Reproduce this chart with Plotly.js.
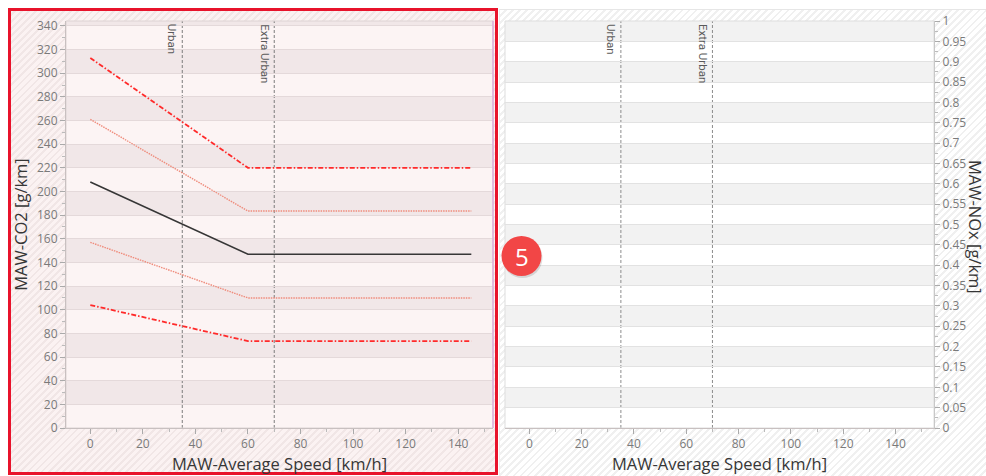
<!DOCTYPE html>
<html>
<head>
<meta charset="utf-8">
<script src="https://cdn.plot.ly/plotly-3.0.1.min.js"></script>
<style>
  html, body { margin:0; padding:0; background:#fff; }
  #wrap { position:relative; width:986px; height:476px; overflow:hidden; }
  .bg { position:absolute; }
  #bgL { left:10px; top:10px; width:486px; height:463px;
    background: repeating-linear-gradient(135deg, #fbf2f2 0px, #fbf2f2 3px, #f1e6e6 3px, #f1e6e6 5px); }
  #bgR { left:499px; top:9px; width:487px; height:467px; border-top:1px solid #e6e6e6; border-left:1px solid #eee;
    background: repeating-linear-gradient(135deg, #ffffff 0px, #ffffff 3px, #f0f0f0 3px, #f0f0f0 5px); }
  #chart { position:absolute; left:0; top:0; width:986px; height:476px; }
</style>
</head>
<body>
<div id="wrap">
  <div class="bg" id="bgL"></div>
  <div class="bg" id="bgR"></div>
  <div id="chart"></div>
</div>
<script>
// ---- data ----
const speed = [0, 60, 120, 145];
const co2Upper2 = [313, 220, 220, 220];   // outer upper (red dash-dot)
const co2Upper1 = [261, 183.5, 183.5, 183.5]; // inner upper (salmon dotted)
const co2Target = [208, 147, 147, 147];   // target (black)
const co2Lower1 = [157, 110, 110, 110];   // inner lower (salmon dotted)
const co2Lower2 = [104, 73.5, 73.5, 73.5]; // outer lower (red dash-dot)
const phaseNames = ["Urban", "Extra Urban"];
const phaseSpeeds = [35, 70];
const xTicks = [0, 20, 40, 60, 80, 100, 120, 140];
const co2Ticks = [0,20,40,60,80,100,120,140,160,180,200,220,240,260,280,300,320,340];
const noxTicks = [0,0.05,0.1,0.15,0.2,0.25,0.3,0.35,0.4,0.45,0.5,0.55,0.6,0.65,0.7,0.75,0.8,0.85,0.9,0.95,1];
const badgeLabel = "5";

// ---- geometry helpers (pixel -> paper) ----
const W = 986, H = 476;
const px = x => x / W;
const py = y => 1 - y / H;

const plotTop = 21, plotBot = 428;
const FONT = "Open Sans, DejaVu Sans, sans-serif";
const tickFont = {family: FONT, size: 12, color: "#7a7a7a"};
const titleFont = {family: FONT, size: 16.5, color: "#363636"};
const phaseFont = {family: "Roboto, Open Sans, sans-serif", size: 11.5, color: "#5a5a5a"};

const redLine = {color: "#ff2a2a", width: 1.8, dash: "5px,2px,1.5px,2px"};
const salmonLine = {color: "#ef8c7c", width: 1.4, dash: "1.5px,1px"};

const traces = [
  {x: speed, y: co2Upper2, mode: "lines", line: redLine, xaxis: "x", yaxis: "y", hoverinfo: "skip"},
  {x: speed, y: co2Upper1, mode: "lines", line: salmonLine, xaxis: "x", yaxis: "y", hoverinfo: "skip"},
  {x: speed, y: co2Target, mode: "lines", line: {color: "#363636", width: 1.6}, xaxis: "x", yaxis: "y", hoverinfo: "skip"},
  {x: speed, y: co2Lower1, mode: "lines", line: salmonLine, xaxis: "x", yaxis: "y", hoverinfo: "skip"},
  {x: speed, y: co2Lower2, mode: "lines", line: redLine, xaxis: "x", yaxis: "y", hoverinfo: "skip"},
  // empty NOx panel trace to instantiate axes
  {x: [], y: [], mode: "lines", xaxis: "x2", yaxis: "y2", hoverinfo: "skip"}
];

const shapes = [];
// plot background bands (left: CO2, step 20)
for (let i = 0; i < co2Ticks.length; i++) {
  const y0 = co2Ticks[i];
  const y1 = i + 1 < co2Ticks.length ? co2Ticks[i + 1] : 344.2;
  const dark = (i % 2 === 1);
  shapes.push({type: "rect", xref: "x domain", yref: "y", x0: 0, x1: 1, y0: y0, y1: y1,
    fillcolor: dark ? "#f1e7e8" : "#fcf4f4", line: {width: 0}, layer: "below"});
}
// right: NOx, step 0.05
for (let i = 0; i < noxTicks.length - 1; i++) {
  const dark = (i % 2 === 1);
  shapes.push({type: "rect", xref: "x2 domain", yref: "y2", x0: 0, x1: 1, y0: noxTicks[i], y1: noxTicks[i + 1],
    fillcolor: dark ? "#f2f2f2" : "#ffffff", line: {width: 0}, layer: "below"});
}
// phase lines
phaseSpeeds.forEach(s => {
  shapes.push({type: "line", xref: "x", yref: "y domain", x0: s, x1: s, y0: 0, y1: 1,
    line: {color: "#7c7c7c", width: 1, dash: "3px,2px"}, layer: "below"});
  shapes.push({type: "line", xref: "x2", yref: "y2 domain", x0: s, x1: s, y0: 0, y1: 1,
    line: {color: "#8c8c8c", width: 1, dash: "3px,2px"}, layer: "below"});
});
// plot frames
shapes.push({type: "rect", xref: "x domain", yref: "y domain", x0: 0, x1: 1, y0: 0, y1: 1,
  line: {color: "#ddd4d4", width: 1}, layer: "below"});
shapes.push({type: "line", xref: "x domain", yref: "y domain", x0: 1, x1: 1, y0: 0, y1: 1,
  line: {color: "#d9a3d9", width: 1.2}});
shapes.push({type: "rect", xref: "x2 domain", yref: "y2 domain", x0: 0, x1: 1, y0: 0, y1: 1,
  line: {color: "#dddddd", width: 1}, layer: "below"});
// selection border (left panel)
shapes.push({type: "rect", xref: "paper", yref: "paper", x0: px(9.5), x1: px(496.5), y0: py(9.5), y1: py(473.5),
  line: {color: "#e8132b", width: 3}});
// badge
shapes.push({type: "circle", xref: "paper", yref: "paper", x0: px(502.5), x1: px(542.5), y0: py(238), y1: py(278),
  fillcolor: "rgba(0,0,0,0.12)", line: {width: 0}});
shapes.push({type: "circle", xref: "paper", yref: "paper", x0: px(501.5), x1: px(541.5), y0: py(236), y1: py(276),
  fillcolor: "#f24646", line: {width: 0}});

const annotations = [];
phaseNames.forEach((n, i) => {
  annotations.push({text: n, xref: "x", yref: "y domain", x: phaseSpeeds[i], y: 1, xanchor: "right", yanchor: "top",
    xshift: -1, yshift: -1, textangle: 90, showarrow: false, font: phaseFont});
  annotations.push({text: n, xref: "x2", yref: "y2 domain", x: phaseSpeeds[i], y: 1, xanchor: "right", yanchor: "top",
    xshift: -1, yshift: -1, textangle: 90, showarrow: false, font: phaseFont});
});
annotations.push({text: "MAW-NOx [g/km]", xref: "paper", yref: "paper", x: px(976), y: py(227), xanchor: "center", yanchor: "middle",
  textangle: 90, showarrow: false, font: titleFont});
annotations.push({text: badgeLabel, xref: "paper", yref: "paper", x: px(521.5), y: py(256), xanchor: "center", yanchor: "middle",
  showarrow: false, font: {family: FONT, size: 24, color: "#ffffff"}});

const xCommon = {
  tickvals: xTicks, ticks: "outside", ticklen: 5, tickcolor: "#aaa", tickfont: tickFont,
  showgrid: false, zeroline: false, showline: true, linecolor: "#c8c0c0", linewidth: 1,
  minor: {dtick: 10, ticks: "outside", ticklen: 3, tickcolor: "#bbb", showgrid: false},
  fixedrange: true
};

const layout = {
  width: W, height: H,
  margin: {l: 0, r: 0, t: 0, b: 0},
  paper_bgcolor: "rgba(0,0,0,0)",
  plot_bgcolor: "rgba(0,0,0,0)",
  showlegend: false,
  xaxis: Object.assign({}, xCommon, {
    domain: [px(66), px(493)], range: [-9.25, 153.25], anchor: "y",
    title: {text: "MAW-Average Speed [km/h]", font: titleFont, standoff: 1}
  }),
  xaxis2: Object.assign({}, xCommon, {
    domain: [px(505), px(934)], range: [-9.3, 154.7], anchor: "y2",
    title: {text: "MAW-Average Speed [km/h]", font: titleFont, standoff: 1}
  }),
  yaxis: {
    domain: [py(plotBot), py(plotTop)], range: [0, 344.2], anchor: "x",
    tickvals: co2Ticks, ticks: "outside", ticklen: 5, tickcolor: "#aaa", tickfont: tickFont,
    showgrid: true, gridcolor: "#e4d9da", gridwidth: 1, zeroline: false, showline: true, linecolor: "#c8c0c0",
    minor: {dtick: 10, ticks: "outside", ticklen: 3, tickcolor: "#bbb", showgrid: false},
    title: {text: "MAW-CO2 [g/km]", font: titleFont, standoff: 5},
    fixedrange: true
  },
  yaxis2: {
    domain: [py(plotBot), py(plotTop)], range: [0, 1], anchor: "x2", side: "right",
    tickvals: noxTicks, ticktext: noxTicks.map(v => String(v)), ticks: "outside", ticklen: 5, tickcolor: "#aaa", tickfont: tickFont,
    showgrid: true, gridcolor: "#e2e2e2", gridwidth: 1, zeroline: false, showline: true, linecolor: "#c8c8c8",
    minor: {dtick: 0.025, ticks: "outside", ticklen: 3, tickcolor: "#bbb", showgrid: false},
    fixedrange: true
  },
  shapes: shapes,
  annotations: annotations
};

Plotly.newPlot("chart", traces, layout, {displayModeBar: false, staticPlot: true});
</script>
</body>
</html>
